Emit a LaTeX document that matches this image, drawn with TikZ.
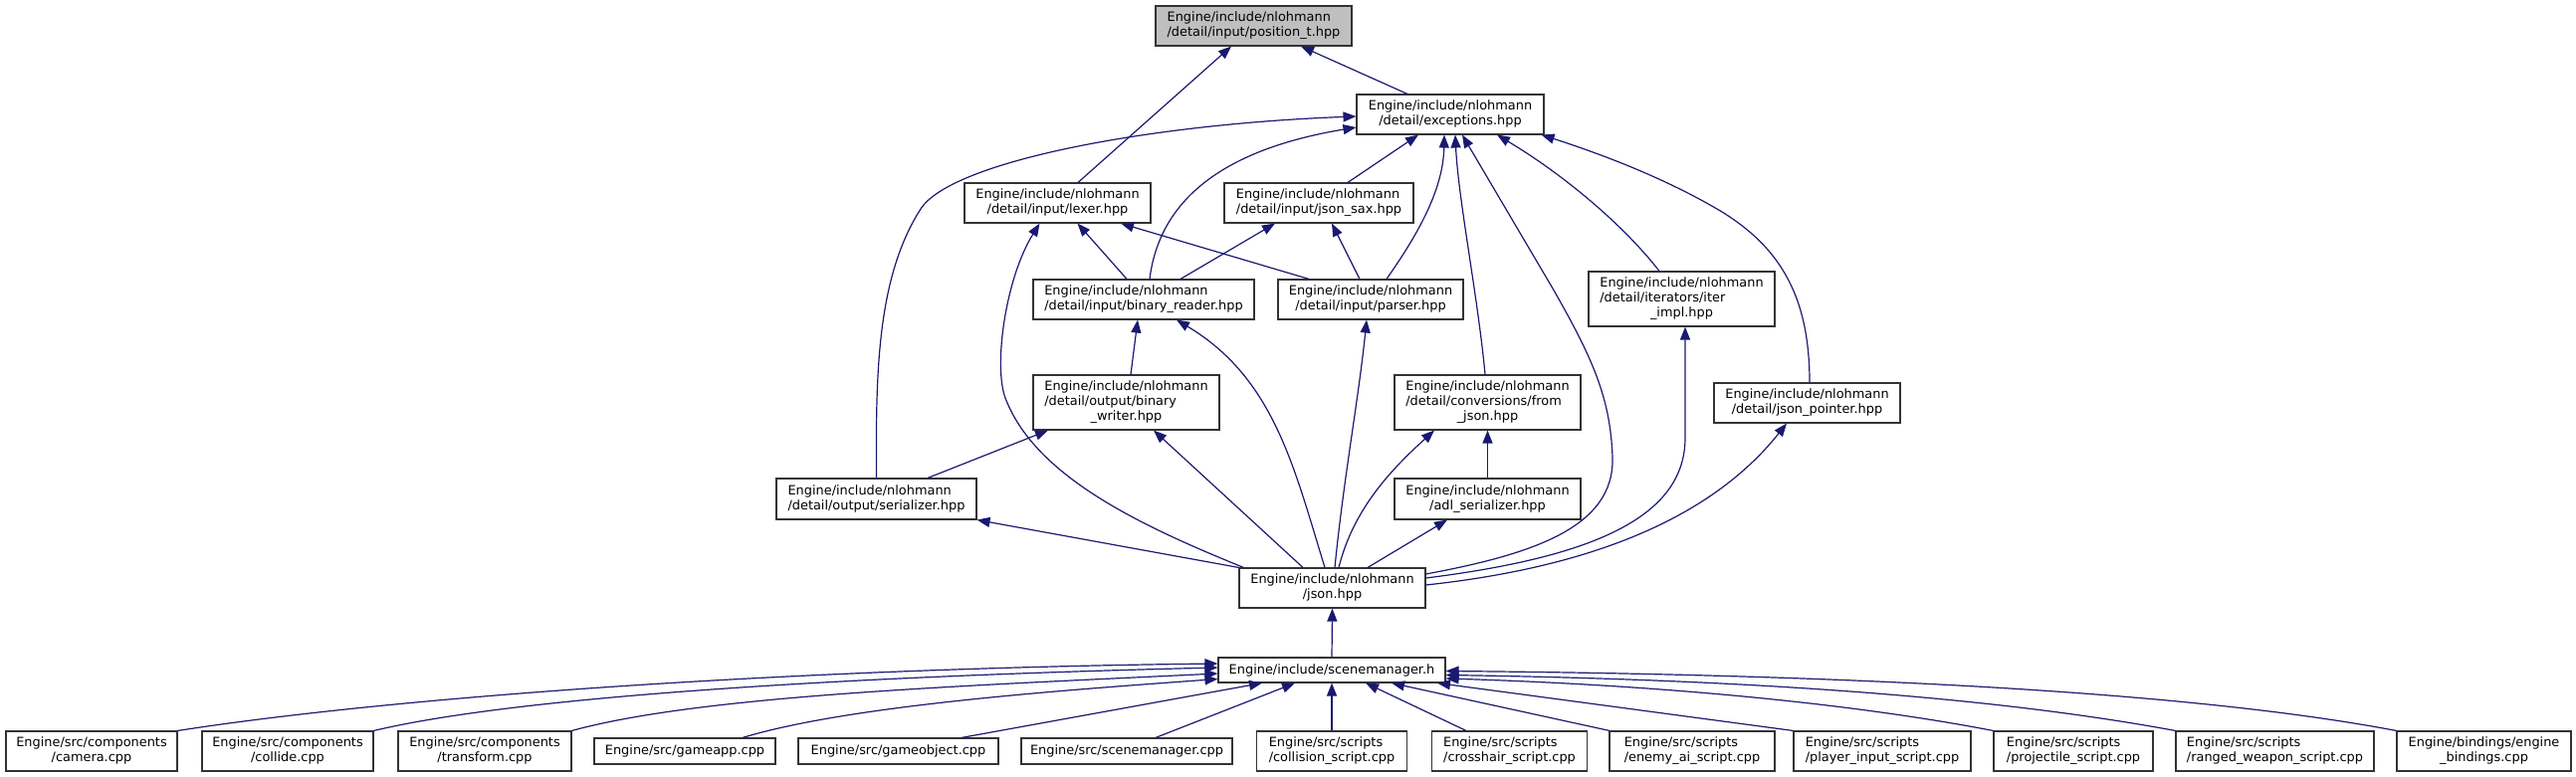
\documentclass[tikz,border=0pt]{standalone}
\usepackage{fontspec}
\setmainfont{DejaVu Sans}
\usetikzlibrary{arrows.meta,calc}
\definecolor{edgec}{HTML}{191970}
\definecolor{rootfill}{HTML}{BFBFBF}
\definecolor{boxline}{HTML}{333333}
\newcommand\twoln[2]{\begin{tabular}{@{}l@{}}#1\\\multicolumn{1}{@{}c@{}}{#2}\end{tabular}}
\newcommand\threeln[3]{\begin{tabular}{@{}l@{}}#1\\#2\\\multicolumn{1}{@{}c@{}}{#3}\end{tabular}}
\begin{document}
\begin{tikzpicture}[x=1pt,y=-1pt,
  box/.style={draw=boxline, line width=1.1pt, fill=white, inner sep=0pt, font=\fontsize{12.9}{15}\selectfont, text=black},
  dep/.style={draw=edgec, line width=1.2pt, -{Triangle[length=13pt,width=10pt]}}]
\useasboundingbox[fill=white] (0,0) rectangle (2588,781);

% nodes
\node[box, fill=rootfill, minimum width=197pt, minimum height=40pt] (pos) at (1259.5,26) {\twoln{Engine/include/nlohmann}{/detail/input/position\_t.hpp}};
\node[box, minimum width=188pt, minimum height=40pt] (exc) at (1457,115) {\twoln{Engine/include/nlohmann}{/detail/exceptions.hpp}};
\node[box, minimum width=187pt, minimum height=40pt] (lexer) at (1062.5,204) {\twoln{Engine/include/nlohmann}{/detail/input/lexer.hpp}};
\node[box, minimum width=190pt, minimum height=40pt] (jsax) at (1325,204) {\twoln{Engine/include/nlohmann}{/detail/input/json\_sax.hpp}};
\node[box, minimum width=222pt, minimum height=40pt] (bread) at (1149,301) {\twoln{Engine/include/nlohmann}{/detail/input/binary\_reader.hpp}};
\node[box, minimum width=186pt, minimum height=40pt] (parser) at (1377,301) {\twoln{Engine/include/nlohmann}{/detail/input/parser.hpp}};
\node[box, minimum width=187pt, minimum height=55pt] (iter) at (1689.5,300.5) {\threeln{Engine/include/nlohmann}{/detail/iterators/iter}{\_impl.hpp}};
\node[box, minimum width=187pt, minimum height=55pt] (bwrite) at (1131.5,404.5) {\threeln{Engine/include/nlohmann}{/detail/output/binary}{\_writer.hpp}};
\node[box, minimum width=187pt, minimum height=55pt] (fromj) at (1494.5,404.5) {\threeln{Engine/include/nlohmann}{/detail/conversions/from}{\_json.hpp}};
\node[box, minimum width=187pt, minimum height=40pt] (jptr) at (1815.5,405) {\twoln{Engine/include/nlohmann}{/detail/json\_pointer.hpp}};
\node[box, minimum width=201pt, minimum height=41pt] (ser) at (880.5,501.5) {\twoln{Engine/include/nlohmann}{/detail/output/serializer.hpp}};
\node[box, minimum width=187pt, minimum height=41pt] (adl) at (1494.5,501.5) {\twoln{Engine/include/nlohmann}{/adl\_serializer.hpp}};
\node[box, minimum width=187pt, minimum height=40pt] (json) at (1338.5,591) {\twoln{Engine/include/nlohmann}{/json.hpp}};
\node[box, minimum width=228pt, minimum height=25pt] (smh) at (1338,673.5) {Engine/include/scenemanager.h};

\node[box, minimum width=172pt, minimum height=40pt] (camera) at (92,755) {\twoln{Engine/src/components}{/camera.cpp}};
\node[box, minimum width=172pt, minimum height=40pt] (collide) at (289,755) {\twoln{Engine/src/components}{/collide.cpp}};
\node[box, minimum width=174pt, minimum height=40pt] (transform) at (487,755) {\twoln{Engine/src/components}{/transform.cpp}};
\node[box, minimum width=182pt, minimum height=26pt] (gameapp) at (688,755) {Engine/src/gameapp.cpp};
\node[box, minimum width=201pt, minimum height=26pt] (gameobject) at (902.5,755) {Engine/src/gameobject.cpp};
\node[box, minimum width=212pt, minimum height=26pt] (smcpp) at (1132,755) {Engine/src/scenemanager.cpp};
\node[box, minimum width=151pt, minimum height=40pt] (collision) at (1338,755) {\twoln{Engine/src/scripts}{/collision\_script.cpp}};
\node[box, minimum width=156pt, minimum height=40pt] (crosshair) at (1516.5,755) {\twoln{Engine/src/scripts}{/crosshair\_script.cpp}};
\node[box, minimum width=166pt, minimum height=40pt] (enemy) at (1700,755) {\twoln{Engine/src/scripts}{/enemy\_ai\_script.cpp}};
\node[box, minimum width=178pt, minimum height=40pt] (player) at (1891,755) {\twoln{Engine/src/scripts}{/player\_input\_script.cpp}};
\node[box, minimum width=160pt, minimum height=40pt] (projectile) at (2083,755) {\twoln{Engine/src/scripts}{/projectile\_script.cpp}};
\node[box, minimum width=199pt, minimum height=40pt] (ranged) at (2285.5,755) {\twoln{Engine/src/scripts}{/ranged\_weapon\_script.cpp}};
\node[box, minimum width=175pt, minimum height=40pt] (bindings) at (2495.5,755) {\twoln{Engine/bindings/engine}{\_bindings.cpp}};

% edges to position_t
\draw[dep] ($(lexer.north)+(20.5,0)$) -- ($(pos.south)+(-22.5,0)$);
\draw[dep] ($(exc.north)+(-43,0)$) -- ($(pos.south)+(47.5,0)$);

% edges to exceptions
\draw[dep] (ser.north) .. controls (880,380) and (880,280) .. (925,210) .. controls (955,163) and (1150,125) .. ($(exc.west)+(0,2)$);
\draw[dep] ($(bread.north)+(6,0)$) .. controls (1165,200) and (1230,150) .. ($(exc.west)+(0,13)$);
\draw[dep] ($(jsax.north)+(29,0)$) -- ($(exc.south)+(-32,0)$);
\draw[dep] ($(parser.north)+(16,0)$) .. controls (1425,235) and (1450,190) .. ($(exc.south)+(-6,0)$);
\draw[dep] ($(fromj.north)+(-2.5,0)$) .. controls (1485,300) and (1465,200) .. ($(exc.south)+(5,0)$);
\draw[dep] ($(json.east)+(0,-14)$) .. controls (1540,557) and (1622,530) .. (1620,460) .. controls (1618,400) and (1600,360) .. (1560,290) -- ($(exc.south)+(12,0)$);
\draw[dep] ($(iter.north)+(-22.5,0)$) .. controls (1630,225) and (1570,175) .. ($(exc.south)+(47,0)$);
\draw[dep] ($(jptr.north)+(2.5,0)$) .. controls (1818,300) and (1790,250) .. (1730,213) .. controls (1670,177) and (1600,152) .. ($(exc.south east)+(-3,0)$);

% edges to lexer
\draw[dep] ($(bread.north)+(-17,0)$) -- ($(lexer.south)+(20,0)$);
\draw[dep] ($(parser.north)+(-62,0)$) -- ($(lexer.south)+(63.5,0)$);
\draw[dep] ($(json.north west)+(5,0)$) .. controls (1150,530) and (1040,480) .. (1010,400) .. controls (998,368) and (1010,280) .. ($(lexer.south)+(-18,0)$);

% edges to json_sax
\draw[dep] ($(bread.north)+(37,0)$) -- ($(jsax.south)+(-44,0)$);
\draw[dep] ($(parser.north)+(-11,0)$) -- ($(jsax.south)+(13,0)$);

% edges to binary_reader
\draw[dep] ($(bwrite.north)+(4.5,0)$) -- ($(bread.south)+(-6,0)$);
\draw[dep] ($(json.north)+(-7.5,0)$) .. controls (1300,470) and (1280,380) .. ($(bread.south)+(33,0)$);

% edges to parser
\draw[dep] ($(json.north)+(2.5,0)$) .. controls (1350,480) and (1365,400) .. ($(parser.south)+(-4,0)$);

% edges to binary_writer
\draw[dep] ($(ser.north)+(51.5,0)$) -- ($(bwrite.south)+(-78.5,0)$);
\draw[dep] ($(json.north)+(-29.5,0)$) -- ($(bwrite.south)+(27.5,0)$);

% edges to serializer
\draw[dep] (json.north west) -- (ser.south east);

% edges to from_json
\draw[dep] ($(json.north)+(6.5,0)$) .. controls (1360,510) and (1400,470) .. ($(fromj.south)+(-53.5,0)$);
\draw[dep] (adl.north) -- (fromj.south);

% edges to adl_serializer
\draw[dep] ($(json.north)+(35.5,0)$) -- ($(adl.south)+(-40.5,0)$);

% edges to iter_impl, json_pointer
\draw[dep] ($(json.east)+(0,-10)$) .. controls (1600,560) and (1693,520) .. (1693,440) -- ($(iter.south)+(3.5,0)$);
\draw[dep] ($(json.east)+(0,-3)$) .. controls (1600,570) and (1720,520) .. ($(jptr.south)+(-20.5,0)$);

% edge to json.hpp
\draw[dep] (smh.north) -- (json.south);

% edges to scenemanager.h
\draw[dep] (camera.north east) .. controls (400,700) and (800,672) .. ($(smh.west)+(0,-6.5)$);
\draw[dep] (collide.north east) .. controls (520,700) and (850,680) .. ($(smh.west)+(0,-2.5)$);
\draw[dep] (transform.north east) .. controls (700,700) and (950,690) .. ($(smh.west)+(0,3.5)$);
\draw[dep] ($(gameapp.north)+(58,0)$) .. controls (850,710) and (1050,695) .. ($(smh.west)+(0,9)$);
\draw[dep] ($(gameobject.north)+(63.5,0)$) -- ($(smh.south)+(-70,0)$);
\draw[dep] ($(smcpp.north)+(29,0)$) -- ($(smh.south)+(-37,0)$);
\draw[dep] (collision.north) -- (smh.south);
\draw[dep] ($(crosshair.north)+(-43.5,0)$) -- ($(smh.south)+(34,0)$);
\draw[dep] ($(enemy.north)+(-83,0)$) -- ($(smh.south)+(60,0)$);
\draw[dep] (player.north west) -- ($(smh.south)+(106,0)$);
\draw[dep] (projectile.north west) .. controls (1850,705) and (1650,688) .. ($(smh.east)+(0,8.5)$);
\draw[dep] (ranged.north west) .. controls (2000,700) and (1750,683) .. ($(smh.east)+(0,5)$);
\draw[dep] (bindings.north west) .. controls (2200,695) and (1850,678) .. ($(smh.east)+(0,1)$);
\end{tikzpicture}
\end{document}
